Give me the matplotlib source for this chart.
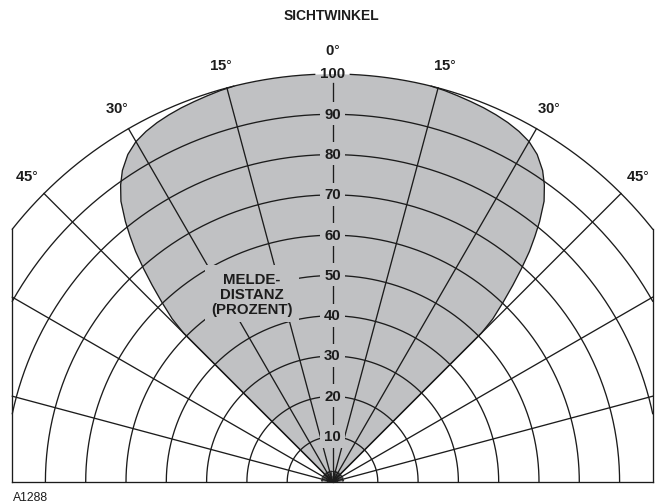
import numpy as np
import matplotlib
matplotlib.use('Agg')
import matplotlib.pyplot as plt

plt.rcParams['font.family'] = ['Liberation Sans', 'DejaVu Sans']
plt.rcParams['mathtext.fontset'] = 'custom'
plt.rcParams['mathtext.bf'] = 'Liberation Sans:bold'
plt.rcParams['mathtext.rm'] = 'Liberation Sans'

# ---------------- data ----------------
TITLE = 'SICHTWINKEL'
RING_VALUES = [10, 20, 30, 40, 50, 60, 70, 80, 90, 100]
RING_LABELS = ['10', '20', '30', '40', '50', '60', '70', '80', '90', '100']
ANGLE_TICKS = [-45, -30, -15, 0, 15, 30, 45]
ANGLE_LABELS = ['45', '30', '15', '0', '15', '30', '45']
RADIAL_ANGLES = [-75, -60, -45, -30, -15, 15, 30, 45, 60, 75]
# detection lobe (one half, mirrored): angle from axis (deg), distance (%)
LOBE_ANGLE = [0, 4, 8, 12, 14, 16, 18, 20, 22, 24, 26, 28, 30, 32, 34, 35.5,
              37, 38.5, 39.5, 40.5, 41.5, 42.5, 43.5, 44.5, 45, 45]
LOBE_DIST = [100, 100, 100, 100, 100, 99.8, 99.5, 99.2, 98.9, 98.5, 98.0,
             97.3, 96.3, 94.6, 92.0, 89.3, 86.0, 81.3, 77.7, 74.0, 69.6,
             65.0, 60.3, 55.5, 51.0, 0]
AXIS_LABEL = 'MELDE-\nDISTANZ\n(PROZENT)'
CODE = 'A1288'

# ---------------- style / geometry ----------------
PX = 4.03            # pixels per unit
R0 = 1.24            # radial offset of the grid
XMAX = 79.45         # half width of the frame
GRAY = '#c0c1c3'
INK = '#1c1c1c'
LW = 0.95
FS = 10.8


def rho(v):
    return R0 + np.asarray(v, dtype=float)


def xy(theta_deg, r):
    t = np.radians(theta_deg)
    return r * np.sin(t), r * np.cos(t)


fig = plt.figure(figsize=(6.59, 5.02), dpi=100)
ax = fig.add_axes([0, 0, 1, 1])
ax.set_xlim(-332.5 / PX, (659 - 332.5) / PX)
ax.set_ylim(-19 / PX, 483 / PX)
ax.axis('off')

R_OUT = rho(100)
TMAX = np.degrees(np.arcsin(XMAX / R_OUT))

# lobe fill
ang = np.array(LOBE_ANGLE, dtype=float)
dist = rho(LOBE_DIST)
full_ang = np.concatenate([-ang[::-1], ang])
full_r = np.concatenate([dist[::-1], dist])
lx, ly = xy(full_ang, full_r)
ax.fill(lx, ly, color=GRAY, lw=0, zorder=1)
# lobe outline (part not on the outer arc)
sel = np.array(LOBE_DIST) < 100
sel[np.argmax(sel) - 1] = True
for s in (1, -1):
    ox, oy = xy(s * ang[sel], dist[sel])
    ax.plot(ox, oy, color=INK, lw=LW, zorder=2, solid_joinstyle='round')

# rings 10..90
for v in RING_VALUES[:-1]:
    r = rho(v)
    tm = np.degrees(np.arcsin(XMAX / r)) if r > XMAX else 90.0
    t = np.linspace(-tm, tm, 400)
    ax.plot(*xy(t, r), color=INK, lw=LW, zorder=2)

# outer arc with a gap for the "100" label
gap = 2.5
for a, b in ((-TMAX, -gap), (gap, TMAX)):
    t = np.linspace(a, b, 300)
    ax.plot(*xy(t, R_OUT), color=INK, lw=LW, zorder=2)

# frame
ytop = R_OUT * np.cos(np.radians(TMAX))
ax.plot([-XMAX, -XMAX], [0, ytop], color=INK, lw=LW, zorder=2)
ax.plot([XMAX, XMAX], [0, ytop], color=INK, lw=LW, zorder=2)
ax.plot([-XMAX, XMAX], [0, 0], color=INK, lw=LW, zorder=2)

# radial lines
for a in RADIAL_ANGLES:
    if abs(a) <= TMAX:
        re = R_OUT
    else:
        re = XMAX / np.sin(np.radians(abs(a)))
    x1, y1 = xy(a, re)
    ax.plot([0, x1], [0, y1], color=INK, lw=LW, zorder=2)
# centre axis
ax.plot([0, 0], [0, rho(97.8)], color=INK, lw=LW, zorder=2)

# fan near the origin
for a in np.arange(-82.5, 83, 7.5):
    x1, y1 = xy(a, 2.8)
    ax.plot([0, x1], [0, y1], color=INK, lw=0.6, zorder=2)
t = np.linspace(-90, 90, 100)
ax.plot(*xy(t, R0), color=INK, lw=0.6, zorder=2)
ax.plot(*xy(t, 2.6), color=INK, lw=0.6, zorder=2)

# ring labels
for v, lab in zip(RING_VALUES, RING_LABELS):
    kw = dict(ha='center', va='center', fontsize=FS, fontweight='bold',
              color=INK, zorder=4)
    if v < 100:
        kw['bbox'] = dict(boxstyle='square,pad=0.3', fc=GRAY, ec='none')
    ax.text(0, rho(v) + 0.15, lab, **kw)

# angle labels
for a, lab in zip(ANGLE_TICKS, ANGLE_LABELS):
    x, y = xy(a, rho(106))
    ax.text(x, y, r'$\mathbf{' + lab + r'}$°', ha='center', va='center',
            fontsize=FS, color=INK, zorder=4)

ax.text(-0.37, 115.8, TITLE, ha='center', va='center', fontsize=10,
        fontweight='bold', color=INK)
ax.text(-19.97, 46.7, AXIS_LABEL, ha='center', va='center', fontsize=FS,
        fontweight='bold', color=INK, linespacing=1.1, zorder=4,
        bbox=dict(boxstyle='square,pad=0.42', fc=GRAY, ec='none'))
ax.text(-79.2, -3.6, CODE, ha='left', va='center', fontsize=8.8, color=INK)

fig.savefig('out.png', dpi=100)
